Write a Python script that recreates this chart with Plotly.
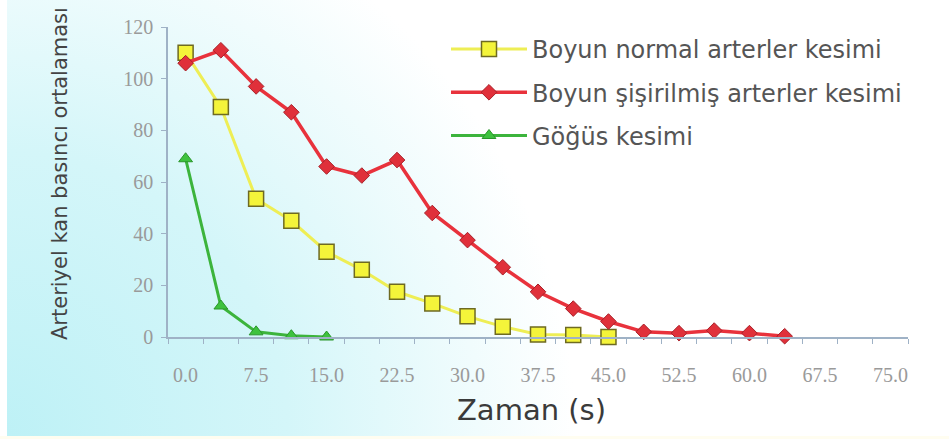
import base64
import plotly.graph_objects as go

# ---- data ----
zaman = [0.0, 3.75, 7.5, 11.25, 15.0, 18.75, 22.5, 26.25, 30.0, 33.75,
         37.5, 41.25, 45.0, 48.75, 52.5, 56.25, 60.0, 63.75]
boyun_normal = [110, 89, 53.5, 45, 33, 26, 17.5, 13, 8, 4, 1, 0.8, 0]
boyun_sisirilmis = [106, 111, 97, 87, 66, 62.5, 68.5, 48, 37.5, 27, 17.5,
                    11, 6, 2, 1.5, 2.5, 1.5, 0.3]
gogus = [69, 12, 2, 0.5, 0]

x_tickvals = [0.0, 7.5, 15.0, 22.5, 30.0, 37.5, 45.0, 52.5, 60.0, 67.5, 75.0]
x_ticktext = ["0.0", "7.5", "15.0", "22.5", "30.0", "37.5", "45.0", "52.5",
              "60.0", "67.5", "75.0"]
y_tickvals = [0, 20, 40, 60, 80, 100, 120]

names = ["Boyun normal arterler kesimi",
         "Boyun şişirilmiş arterler kesimi",
         "Göğüs kesimi"]

W, H = 949, 439
L, R, T, B = 168, 41, 27, 102
pw, ph = W - L - R, H - T - B

fig = go.Figure()
fig.add_trace(go.Scatter(
    x=zaman[:len(boyun_normal)], y=boyun_normal, name=names[0],
    mode="lines+markers", legendgroup="a", cliponaxis=False,
    line=dict(color="#eeee55", width=3),
    marker=dict(symbol="square", size=15, color="#f4f43a",
                line=dict(color="#6e6a22", width=1.5))))
fig.add_trace(go.Scatter(
    x=zaman[:len(boyun_sisirilmis)], y=boyun_sisirilmis, name=names[1],
    mode="lines+markers", legendgroup="b", cliponaxis=False,
    line=dict(color="#e8323c", width=3.5),
    marker=dict(symbol="diamond", size=12, color="#e0303a",
                line=dict(color="#a82028", width=1))))
fig.add_trace(go.Scatter(
    x=zaman[:len(gogus)], y=gogus, name=names[2],
    mode="lines+markers", legendgroup="c", cliponaxis=False,
    line=dict(color="#3cb43c", width=3),
    marker=dict(symbol="triangle-up", size=12, color="#3ec23e",
                line=dict(color="#2a962a", width=1))))

svg = (
    "<svg xmlns='http://www.w3.org/2000/svg' width='949' height='439' "
    "viewBox='0 0 949 439' preserveAspectRatio='none'>"
    "<defs><radialGradient id='g' cx='0' cy='439' r='720' "
    "gradientUnits='userSpaceOnUse'>"
    "<stop offset='0' stop-color='#bdf1f6'/>"
    "<stop offset='0.4' stop-color='#d4f6f9'/>"
    "<stop offset='0.8' stop-color='#ffffff'/>"
    "</radialGradient></defs>"
    "<rect width='949' height='439' fill='url(#g)'/>"
    "<rect x='0' y='0' width='7' height='439' fill='#ffffff'/>"
    "<rect x='0' y='436' width='949' height='3' fill='#fffdf0'/>"
    "</svg>")
src = "data:image/svg+xml;base64," + base64.b64encode(svg.encode()).decode()

axis_col = "#9fb2c6"
fig.update_layout(
    width=W, height=H,
    margin=dict(l=L, r=R, t=T, b=B, pad=0),
    paper_bgcolor="#ffffff",
    plot_bgcolor="rgba(0,0,0,0)",
    images=[dict(source=src, xref="paper", yref="paper",
                 x=-L / pw, y=1 + T / ph, sizex=W / pw, sizey=H / ph,
                 xanchor="left", yanchor="top", sizing="stretch",
                 layer="below")],
    showlegend=True,
    legend=dict(x=(446 - L) / pw, y=1 - (27 - T) / ph,
                xanchor="left", yanchor="top",
                bgcolor="rgba(0,0,0,0)", traceorder="grouped",
                tracegroupgap=9, itemwidth=76,
                font=dict(family="DejaVu Sans", size=24, color="#555555")),
    xaxis=dict(range=[-1.875, 76.875], showgrid=False, zeroline=False,
               showline=True, linecolor=axis_col, linewidth=1.5,
               tickmode="array", tickvals=x_tickvals, ticktext=x_ticktext,
               ticks="", ticklabelstandoff=19,
               tickfont=dict(family="Liberation Serif", size=20,
                             color="#9a9a9a"),
               minor=dict(tick0=-1.875, dtick=3.75, ticks="outside",
                          ticklen=5, tickcolor=axis_col, tickwidth=1)),
    yaxis=dict(range=[0, 120], showgrid=False, zeroline=False,
               showline=True, linecolor=axis_col, linewidth=1.5,
               tickmode="array", tickvals=y_tickvals,
               ticks="outside", ticklen=5, tickcolor=axis_col,
               ticklabelstandoff=4,
               tickfont=dict(family="Liberation Serif", size=20,
                             color="#9a9a9a")),
    annotations=[
        dict(text="Zaman (s)", xref="paper", yref="paper",
             x=(531 - L) / pw, y=-(410 - (T + ph)) / ph,
             xanchor="center", yanchor="middle", showarrow=False,
             font=dict(family="DejaVu Sans", size=29, color="#3a3a3a")),
        dict(text="Arteriyel kan basıncı ortalaması", xref="paper",
             yref="paper", x=-(L - 60) / pw, y=1 - (174 - T) / ph,
             xanchor="center", yanchor="middle", textangle=-90,
             showarrow=False,
             font=dict(family="DejaVu Sans", size=21, color="#444444")),
    ],
)

fig.write_html("out.html", config={"displayModeBar": False},
               post_script="document.body.style.margin='0px';")
